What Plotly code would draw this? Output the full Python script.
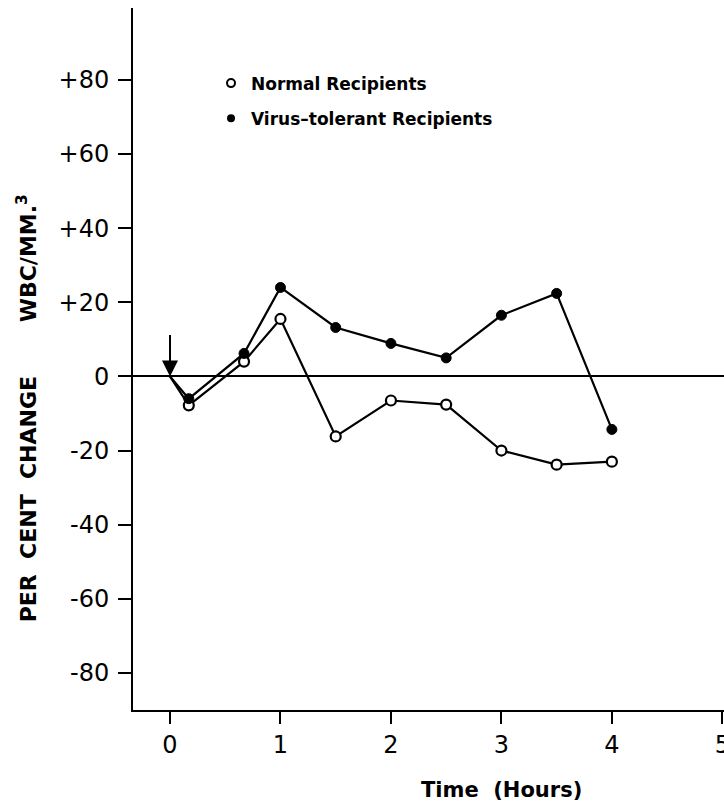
import plotly.graph_objects as go

time_h = [0, 0.17, 0.67, 1.0, 1.5, 2.0, 2.5, 3.0, 3.5, 4.0]
normal = [0, -7.8, 4.0, 15.5, -16.2, -6.5, -7.6, -20.0, -23.8, -23.0]
tolerant = [0, -6.0, 6.2, 24.0, 13.2, 8.9, 5.0, 16.5, 22.4, -14.3]
ytick_vals = [-80, -60, -40, -20, 0, 20, 40, 60, 80]
ytick_text = ["-80", "-60", "-40", "-20", "0", "+20", "+40", "+60", "+80"]
xtick_vals = [0, 1, 2, 3, 4, 5]

msize = [0] + [10] * (len(time_h) - 1)
FONT = "DejaVu Sans"
NB = "&nbsp;"

fig = go.Figure()
fig.add_trace(go.Scatter(
    x=time_h, y=normal, mode="lines+markers", showlegend=False,
    line=dict(color="black", width=2.2),
    marker=dict(symbol="circle", size=msize, color="white", opacity=1,
                line=dict(color="black", width=2.2)),
))
fig.add_trace(go.Scatter(
    x=time_h, y=tolerant, mode="lines+markers", showlegend=False,
    line=dict(color="black", width=2.2),
    marker=dict(symbol="circle", size=msize, color="black", opacity=1,
                line=dict(color="black", width=1)),
))
# legend-only entries
fig.add_trace(go.Scatter(
    x=[None], y=[None], mode="markers", name="Normal Recipients",
    legendgroup="a",
    marker=dict(symbol="circle", size=8, color="white",
                line=dict(color="black", width=2)),
))
fig.add_trace(go.Scatter(
    x=[None], y=[None], mode="markers", name="Virus\u2013tolerant Recipients",
    legendgroup="b",
    marker=dict(symbol="circle", size=8, color="black"),
))

fig.add_annotation(
    x=0, y=0, xref="x", yref="y", ax=0, ay=-43,
    showarrow=True, arrowhead=2, arrowsize=1.6, arrowwidth=2,
    arrowcolor="black", text="", standoff=0,
)
fig.add_annotation(
    xref="paper", yref="paper", x=-0.179, y=0.43, textangle=-90,
    showarrow=False, xanchor="center", yanchor="middle",
    text="<b>PER" + NB + " CENT" + NB + " CHANGE" + NB * 7
         + "WBC/MM.<sup>3</sup></b>",
    font=dict(family=FONT, size=22, color="black"),
)
fig.add_annotation(
    xref="x", yref="paper", x=3, y=-0.114, yanchor="middle",
    showarrow=False, text="<b>Time" + NB * 2 + "(Hours)</b>",
    font=dict(family=FONT, size=21, color="black"),
)

fig.update_layout(
    width=724, height=802,
    margin=dict(l=133, r=0, t=8, b=92, autoexpand=False),
    paper_bgcolor="white", plot_bgcolor="white",
    font=dict(family=FONT, color="black"),
    legend=dict(x=0.132, y=0.918, xanchor="left", yanchor="top",
                traceorder="grouped", tracegroupgap=10,
                bgcolor="rgba(0,0,0,0)",
                font=dict(family=FONT, size=17, color="black", weight="bold")),
    xaxis=dict(
        range=[-0.335, 5.015], tickvals=xtick_vals, ticktext=[str(v) for v in xtick_vals],
        showgrid=False, zeroline=False, showline=True, linecolor="black", linewidth=2,
        ticks="outside", ticklen=12, tickwidth=2, tickcolor="black",
        ticklabeloverflow="allow", automargin=False,
        tickfont=dict(family=FONT, size=24, color="black"),
    ),
    yaxis=dict(
        range=[-90, 99.4], tickvals=ytick_vals, ticktext=ytick_text,
        showgrid=False, zeroline=True, zerolinecolor="black", zerolinewidth=2,
        showline=True, linecolor="black", linewidth=2,
        ticks="outside", ticklen=13, tickwidth=2, tickcolor="black",
        ticklabelstandoff=4, automargin=False,
        tickfont=dict(family=FONT, size=24, color="black"),
    ),
)

fig.write_html(
    "out.html",
    config={"displayModeBar": False},
    post_script="document.body.style.margin='0';document.body.style.overflow='hidden';",
)
